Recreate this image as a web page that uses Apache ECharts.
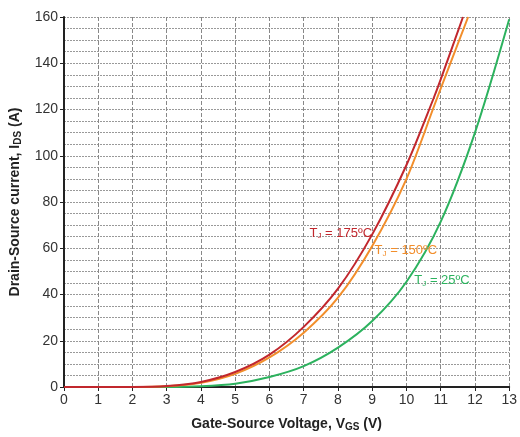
<!DOCTYPE html>
<html>
<head>
<meta charset="utf-8">
<script src="https://cdn.jsdelivr.net/npm/echarts@6/dist/echarts.min.js"></script>
<style>
  html, body { margin: 0; padding: 0; background: #fff; }
  #chart { width: 520px; height: 437px; }
</style>
</head>
<body>
<div id="chart"></div>
<script>
// Transfer characteristics, Ids vs Vgs
const vgs175 = [0, 1, 2, 3, 4, 5, 6, 7, 8, 9, 10, 10.77, 11, 11.65];
const ids175 = [0, 0, 0, 0.4, 2.2, 6.5, 14, 26, 42.5, 66, 96, 124, 133, 160];

const vgs150 = [0, 1, 2, 3, 4, 5, 6, 7, 8, 9, 10, 10.87, 11.8];
const ids150 = [0, 0, 0, 0.3, 1.8, 5.7, 12.8, 23.5, 38.6, 61, 90, 124, 160];

const vgs25 = [0, 1, 2, 3, 4, 5, 6, 7, 8, 9, 10, 11, 12, 13];
const ids25 = [0, 0, 0, 0, 0.3, 1.4, 4.3, 9, 17, 28.5, 45.5, 71.5, 110, 159];

const xTicks = [0, 1, 2, 3, 4, 5, 6, 7, 8, 9, 10, 11, 12, 13];
const yTicks = [0, 20, 40, 60, 80, 100, 120, 140, 160];

// label anchor points [Vgs, Ids]
const label175 = [7.17, 66.5];
const label150 = [9.07, 59];
const label25 = [10.23, 46];

const COLORS = { t175: '#C1272D', t150: '#F28E2B', t25: '#2CB25E' };

function pairs(xs, ys) {
    return xs.map((x, i) => [x, ys[i]]);
}

function tempLabel(coord, temp, color) {
    return {
        symbol: 'circle',
        symbolSize: 0,
        data: [{
            coord: coord,
            label: {
                show: true,
                position: 'right',
                distance: 0,
                formatter: '{t|T}{s|J}{t| = ' + temp + 'ºC}',
                rich: {
                    t: { color: color, fontSize: 13, fontFamily: 'Liberation Sans Narrow, Arial' },
                    s: { color: color, fontSize: 8, fontFamily: 'Liberation Sans Narrow, Arial', padding: [6, 0, 0, 0] }
                }
            }
        }]
    };
}

const chart = echarts.init(document.getElementById('chart'));

function lineSeries(name, xs, ys, color, lbl, temp) {
    return {
        name: name,
        type: 'line',
        data: pairs(xs, ys),
        smooth: 0.3,
        showSymbol: false,
        clip: true,
        lineStyle: { color: color, width: 2 },
        itemStyle: { color: color },
        markPoint: tempLabel(lbl, temp, color),
        z: 3
    };
}

chart.setOption({
    animation: false,
    grid: { left: 64, right: 6, top: 17, bottom: 47 },
    xAxis: {
        type: 'value',
        min: 0,
        max: 13,
        interval: 1,
        name: '{b|Gate-Source Voltage, V}{s|GS}{b| (V)}',
        nameLocation: 'middle',
        nameGap: 29,
        nameTextStyle: {
            rich: {
                b: { fontSize: 14, fontWeight: 'bold', color: '#222', fontFamily: 'Arial' },
                s: { fontSize: 10, fontWeight: 'bold', color: '#222', fontFamily: 'Arial', padding: [6, 0, 0, 0] }
            }
        },
        axisLine: { show: true, onZero: false, lineStyle: { color: '#222', width: 2 } },
        axisTick: { show: true, length: 4, lineStyle: { color: '#222' } },
        axisLabel: { color: '#333', fontSize: 14, fontFamily: 'Arial', margin: 6,
            formatter: v => xTicks.includes(v) ? String(v) : '' },
        splitLine: { show: true, lineStyle: { color: '#888', width: 1, type: [4, 2] } }
    },
    yAxis: {
        type: 'value',
        min: 0,
        max: 160,
        interval: 20,
        name: '{b|Drain-Source current, I}{s|DS}{b| (A)}',
        nameLocation: 'middle',
        nameGap: 41,
        nameTextStyle: {
            rich: {
                b: { fontSize: 14, fontWeight: 'bold', color: '#222', fontFamily: 'Arial' },
                s: { fontSize: 10, fontWeight: 'bold', color: '#222', fontFamily: 'Arial', padding: [6, 0, 0, 0] }
            }
        },
        axisLine: { show: true, lineStyle: { color: '#222', width: 2 } },
        axisTick: { show: true, length: 4, lineStyle: { color: '#222' } },
        axisLabel: { color: '#333', fontSize: 14, fontFamily: 'Arial', margin: 6,
            formatter: v => yTicks.includes(v) ? String(v) : '' },
        minorTick: { show: false, splitNumber: 4 },
        splitLine: { show: true, lineStyle: { color: '#999', width: 1, type: [2, 1] } },
        minorSplitLine: { show: true, lineStyle: { color: '#999', width: 1, type: [2, 1] } }
    },
    series: [
        lineSeries('25', vgs25, ids25, COLORS.t25, label25, 25),
        lineSeries('150', vgs150, ids150, COLORS.t150, label150, 150),
        lineSeries('175', vgs175, ids175, COLORS.t175, label175, 175)
    ]
});
</script>
</body>
</html>
